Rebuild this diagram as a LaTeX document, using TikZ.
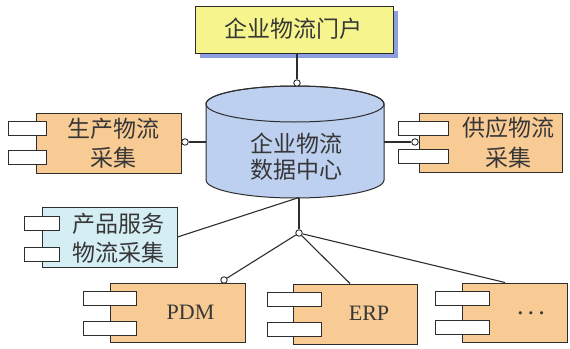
\documentclass[tikz,border=0pt]{standalone}
\usepackage{fontspec}
\setmainfont{Liberation Serif}
\newfontfamily\cjk{Noto Sans CJK SC}
\usetikzlibrary{shadows}
\definecolor{lc}{RGB}{45,45,45}
\definecolor{tc}{RGB}{55,55,55}
\definecolor{orangefill}{RGB}{249,203,148}
\definecolor{yellowfill}{RGB}{246,244,140}
\definecolor{cylfill}{RGB}{190,208,240}
\definecolor{cyanfill}{RGB}{212,238,244}
\definecolor{shadowblue}{RGB}{140,160,225}
\begin{document}
\begin{tikzpicture}[x=1pt,y=-1pt,
  box/.style={draw=lc, line width=1pt, inner sep=0pt},
  comp/.style={box, fill=orangefill},
  tabbox/.style={draw=lc, line width=1pt, fill=white, inner sep=0pt, minimum width=#1, minimum height=14pt},
  lolli/.style={circle, draw=lc, fill=white, line width=0.9pt, minimum size=6.5pt, inner sep=0pt},
  conn/.style={draw=lc, line width=1.1pt},
  txt/.style={font=\cjk\fontsize{23}{29.5}\selectfont, text=tc, align=center, inner sep=0pt},
  ltxt/.style={font=\fontsize{22}{26}\selectfont, text=tc, inner sep=0pt}]
\useasboundingbox (0,0) rectangle (570,348);

% portal
\node[box, fill=yellowfill, minimum width=198pt, minimum height=47pt,
  drop shadow={shadow xshift=5pt, shadow yshift=-5pt, fill=shadowblue, opacity=1}]
  (portal) at (294,29.5) {};
\node[txt] (portalt) at (293,29) {企业物流门户};

% cylinder
\node[minimum width=178pt, minimum height=112pt, inner sep=0pt] (cylbody) at (295,142) {};
\filldraw[draw=lc, line width=1pt, fill=cylfill] (206,104) -- (206,180)
  arc[start angle=180, end angle=360, x radius=89pt, y radius=18pt] -- (384,104)
  arc[start angle=0, end angle=180, x radius=89pt, y radius=18pt] -- cycle;
\draw[draw=lc, line width=1pt] (295,104) ellipse[x radius=89pt, y radius=18pt];
\node[txt, font=\cjk\fontsize{23}{26}\selectfont] (cylt) at (296,157) {企业物流\\数据中心};

% production
\node[comp, minimum width=145pt, minimum height=60pt] (prod) at (108.5,143) {};
\node[tabbox=38pt] (prodta) at (27,128) {};
\node[tabbox=38pt] (prodtb) at (27,157.5) {};
\node[txt] (prodt) at (113.5,143) {生产物流\\采集};

% supply
\node[comp, minimum width=143pt, minimum height=59pt] (supp) at (490.5,142.5) {};
\node[tabbox=50pt] (suppta) at (423,128) {};
\node[tabbox=50pt] (supptb) at (423,156.5) {};
\node[txt] (suppt) at (508,142.5) {供应物流\\采集};

% product service
\node[box, fill=cyanfill, minimum width=135pt, minimum height=60pt] (psvc) at (109.5,237) {};
\node[tabbox=35pt] (psvcta) at (41.5,223.5) {};
\node[tabbox=35pt] (psvctb) at (41.5,254) {};
\node[txt] (psvct) at (118,238) {产品服务\\物流采集};

% PDM
\node[comp, minimum width=135pt, minimum height=59pt] (pdm) at (177.5,312.5) {};
\node[tabbox=53pt] (pdmta) at (109.5,298) {};
\node[tabbox=53pt] (pdmtb) at (109.5,328) {};
\node[ltxt] (pdmt) at (190.5,312.5) {PDM};

% ERP
\node[comp, minimum width=124pt, minimum height=60pt] (erp) at (355,314) {};
\node[tabbox=54pt] (erpta) at (294,299) {};
\node[tabbox=54pt] (erptb) at (294,329) {};
\node[ltxt] (erpt) at (369,313.5) {ERP};

% etc
\node[comp, minimum width=105pt, minimum height=59pt] (etc) at (514.5,312.5) {};
\node[tabbox=54pt] (etcta) at (462,298) {};
\node[tabbox=54pt] (etctb) at (462,327) {};
\node[ltxt] (etct) at (531,314) {\mbox{\boldmath$\cdots$}};

% lollipops and connectors
\node[lolli] (c1) at (297,83) {};
\draw[conn] (c1 |- portal.south) -- (c1.north);

\node[lolli] (c2) at (185,142) {};
\draw[conn] (c2.east) -- (cylbody.west |- c2.east);

\node[lolli] (c3) at (415,142) {};
\draw[conn] (cylbody.east |- c3.west) -- (c3.west);

\coordinate (cylb) at (299,197.5);
\node[lolli] (j) at (299,233) {};
\draw[conn] (cylb) -- (j.north);
\draw[conn] (psvc.east) -- (cylb);

\node[lolli] (c4) at (224,280) {};
\draw[conn] (j) -- (c4);
\draw[conn] (j) -- ([xshift=-5pt]erp.north);
\draw[conn] (j) -- ([xshift=-9.5pt]etc.north);
\end{tikzpicture}
\end{document}
